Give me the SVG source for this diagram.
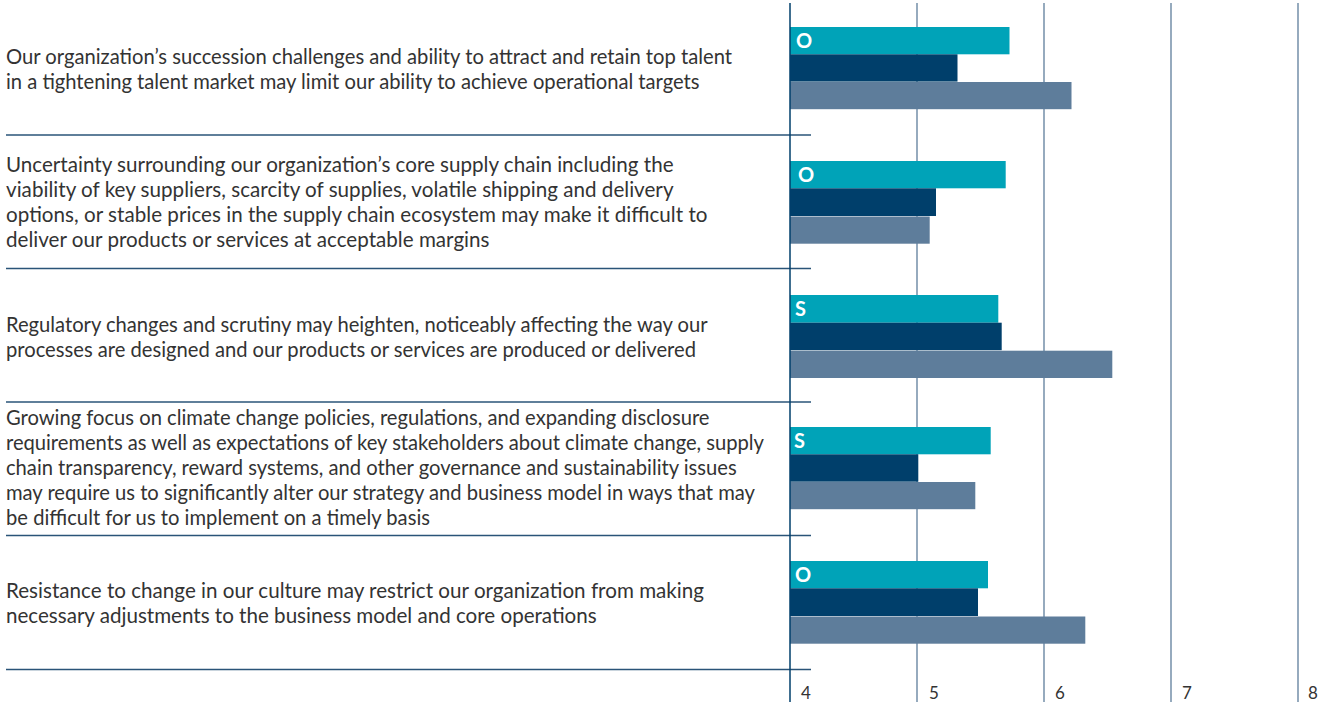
<svg xmlns="http://www.w3.org/2000/svg" width="1319" height="702" viewBox="0 0 1319 702">
<style>
.lbl{font-family:Lato,"Liberation Sans",sans-serif;font-size:20.2px;fill:#333333}
.big{font-size:20.6px}
.tick{font-family:Lato,"Liberation Sans",sans-serif;font-size:17px;fill:#333333}
.tag{font-family:Lato,"Liberation Sans",sans-serif;font-size:20px;font-weight:bold;fill:#ffffff}
.grid{stroke:#5E7D9B;stroke-width:1.3}
.sep{stroke:#2A5478;stroke-width:1.3}
.a{fill:#00A3B8}
.b{fill:#003F6B}
.c{fill:#5E7D9B}
</style>
<rect width="1319" height="702" fill="#ffffff"/>
<g id="grid">
<line class="grid" x1="917" y1="3" x2="917" y2="702"/>
<line class="grid" x1="1044" y1="3" x2="1044" y2="702"/>
<line class="grid" x1="1171" y1="3" x2="1171" y2="702"/>
<line class="grid" x1="1298" y1="3" x2="1298" y2="702"/>
</g>
<g id="connectors">
<line class="sep" x1="6" y1="135" x2="811" y2="135"/>
<line class="sep" x1="6" y1="268.5" x2="811" y2="268.5"/>
<line class="sep" x1="6" y1="402" x2="811" y2="402"/>
<line class="sep" x1="6" y1="535.5" x2="811" y2="535.5"/>
<line class="sep" x1="6" y1="669.5" x2="811" y2="669.5"/>
</g>
<g id="row1">
<text class="lbl" x="6" y="64" textLength="726" lengthAdjust="spacing">Our organization’s succession challenges and ability to attract and retain top talent</text>
<text class="lbl" x="6" y="89" textLength="693.5" lengthAdjust="spacing">in a tightening talent market may limit our ability to achieve operational targets</text>
<rect class="a" x="790" y="27" width="219.5" height="27.3"/>
<rect class="b" x="790" y="54.3" width="167.5" height="27.3"/>
<rect class="c" x="790" y="82" width="281.5" height="27.2"/>
<text class="tag" x="796" y="48">O</text>
</g>
<g id="row2">
<text class="lbl big" x="6" y="172" textLength="667.5" lengthAdjust="spacing">Uncertainty surrounding our organization’s core supply chain including the</text>
<text class="lbl big" x="6" y="197" textLength="667.5" lengthAdjust="spacing">viability of key suppliers, scarcity of supplies, volatile shipping and delivery</text>
<text class="lbl big" x="6" y="222" textLength="701.5" lengthAdjust="spacing">options, or stable prices in the supply chain ecosystem may make it difficult to</text>
<text class="lbl big" x="6" y="247" textLength="483.5" lengthAdjust="spacing">deliver our products or services at acceptable margins</text>
<rect class="a" x="790" y="161" width="215.7" height="27.3"/>
<rect class="b" x="790" y="188.3" width="146" height="27.7"/>
<rect class="c" x="790" y="216.5" width="139.7" height="27.2"/>
<text class="tag" x="798" y="182">O</text>
</g>
<g id="row3">
<text class="lbl" x="6" y="332" textLength="701.5" lengthAdjust="spacing">Regulatory changes and scrutiny may heighten, noticeably affecting the way our</text>
<text class="lbl" x="6" y="357" textLength="690" lengthAdjust="spacing">processes are designed and our products or services are produced or delivered</text>
<rect class="a" x="790" y="295" width="208.3" height="27.7"/>
<rect class="b" x="790" y="322.7" width="211.7" height="27.5"/>
<rect class="c" x="790" y="350.7" width="322.3" height="27.3"/>
<text class="tag" x="795" y="316">S</text>
</g>
<g id="row4">
<text class="lbl" x="6" y="425" textLength="703.5" lengthAdjust="spacing">Growing focus on climate change policies, regulations, and expanding disclosure</text>
<text class="lbl" x="6" y="450" textLength="758" lengthAdjust="spacing">requirements as well as expectations of key stakeholders about climate change, supply</text>
<text class="lbl" x="6" y="475" textLength="730.7" lengthAdjust="spacing">chain transparency, reward systems, and other governance and sustainability issues</text>
<text class="lbl" x="6" y="500" textLength="749" lengthAdjust="spacing">may require us to significantly alter our strategy and business model in ways that may</text>
<text class="lbl" x="6" y="525" textLength="424" lengthAdjust="spacing">be difficult for us to implement on a timely basis</text>
<rect class="a" x="790" y="427" width="200.7" height="27.3"/>
<rect class="b" x="790" y="454.3" width="128.3" height="27.4"/>
<rect class="c" x="790" y="482" width="185.3" height="27.2"/>
<text class="tag" x="794" y="448">S</text>
</g>
<g id="row5">
<text class="lbl big" x="6" y="598" textLength="698" lengthAdjust="spacing">Resistance to change in our culture may restrict our organization from making</text>
<text class="lbl big" x="6" y="623" textLength="590.7" lengthAdjust="spacing">necessary adjustments to the business model and core operations</text>
<rect class="a" x="790" y="561" width="198" height="27.3"/>
<rect class="b" x="790" y="588.3" width="188" height="27.7"/>
<rect class="c" x="790" y="616.5" width="295.3" height="27.2"/>
<text class="tag" x="795" y="582">O</text>
</g>
<g id="axis">
<line x1="790" y1="3" x2="790" y2="702" stroke="#003F6B" stroke-width="1.5"/>
<text class="tick" x="801" y="699">4</text>
<text class="tick" x="929" y="699">5</text>
<text class="tick" x="1055" y="699">6</text>
<text class="tick" x="1182" y="699">7</text>
<text class="tick" x="1308" y="699">8</text>
</g>
</svg>
